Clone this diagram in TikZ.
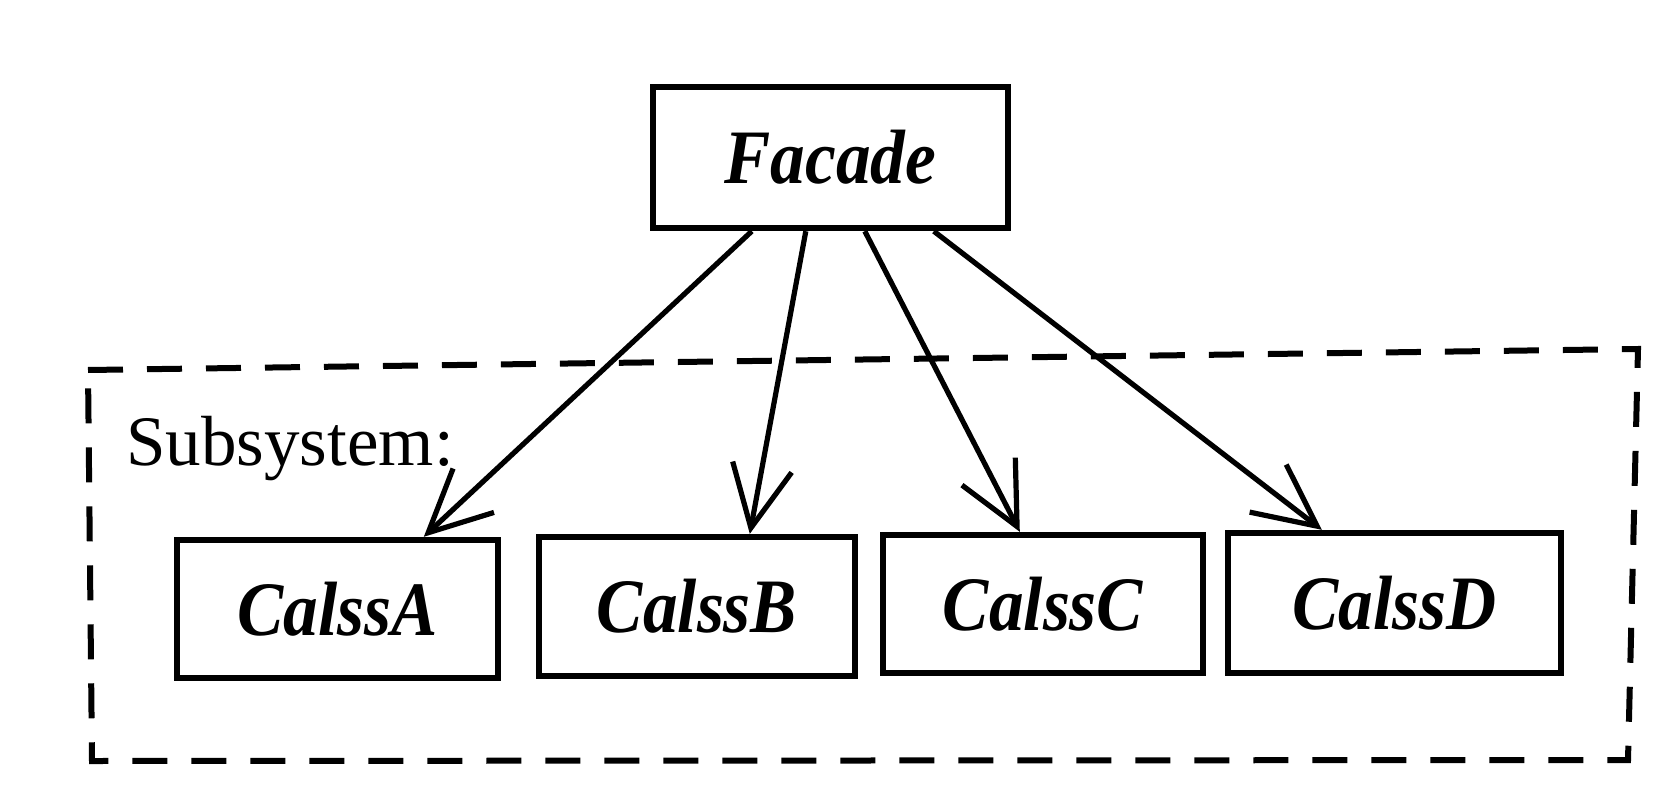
\documentclass[tikz,border=0pt]{standalone}
\usepackage{fontspec}
\setmainfont{Liberation Serif}
\newfontfamily\clsfont[FakeStretch=0.9]{Liberation Serif}
\usetikzlibrary{arrows.meta,calc}
\begin{document}
\begin{tikzpicture}[x=0.5pt,y=-0.5pt,
  cls/.style={draw,line width=3.2pt,inner sep=0pt,
    font=\clsfont\bfseries\itshape\fontsize{38.5}{41}\selectfont},
  arr/.style={line width=2.6pt,-{Straight Barb[length=31pt,width=30pt,line width=2.6pt]}},
  sub/.style={line width=3pt,dash pattern=on 17.5pt off 12pt,line join=miter},
  lbl/.style={inner sep=0pt,anchor=base west,font=\fontsize{35.5}{38}\selectfont}]
\useasboundingbox (0,0) rectangle (1676,808);
\fill[white] (0,0) rectangle (1676,808);

\coordinate (tl) at (88,370);
\coordinate (tr) at (1638,349);
\coordinate (br) at (1628,760);
\coordinate (bl) at (92,761);
\draw[sub] (tl) -- (tr) -- (br) -- (bl) -- cycle;

\node[cls,minimum width=177.5pt,minimum height=70.5pt] (F) at (830.5,157.5) {Facade};
\node[cls,minimum width=160.5pt,minimum height=69pt] (A) at (337.5,609) {CalssA};
\node[cls,minimum width=158pt,minimum height=69.5pt] (B) at (697,606.5) {CalssB};
\node[cls,minimum width=160pt,minimum height=69pt] (C) at (1043,604) {CalssC};
\node[cls,minimum width=166.5pt,minimum height=70pt] (D) at (1394.5,603) {CalssD};

\node[lbl] (S) at (126,465) {Subsystem:};

\draw[arr] ($(F.south west)+(102,0)$) -- ($(A.north west)+(250,0)$);
\draw[arr] ($(F.south west)+(156,0)$) -- ($(B.north west)+(214,0)$);
\draw[arr] ($(F.south west)+(215,0)$) -- ($(C.north west)+(140,0)$);
\draw[arr] ($(F.south west)+(284,0)$) -- ($(D.north west)+(97,0)$);
\end{tikzpicture}
\end{document}
